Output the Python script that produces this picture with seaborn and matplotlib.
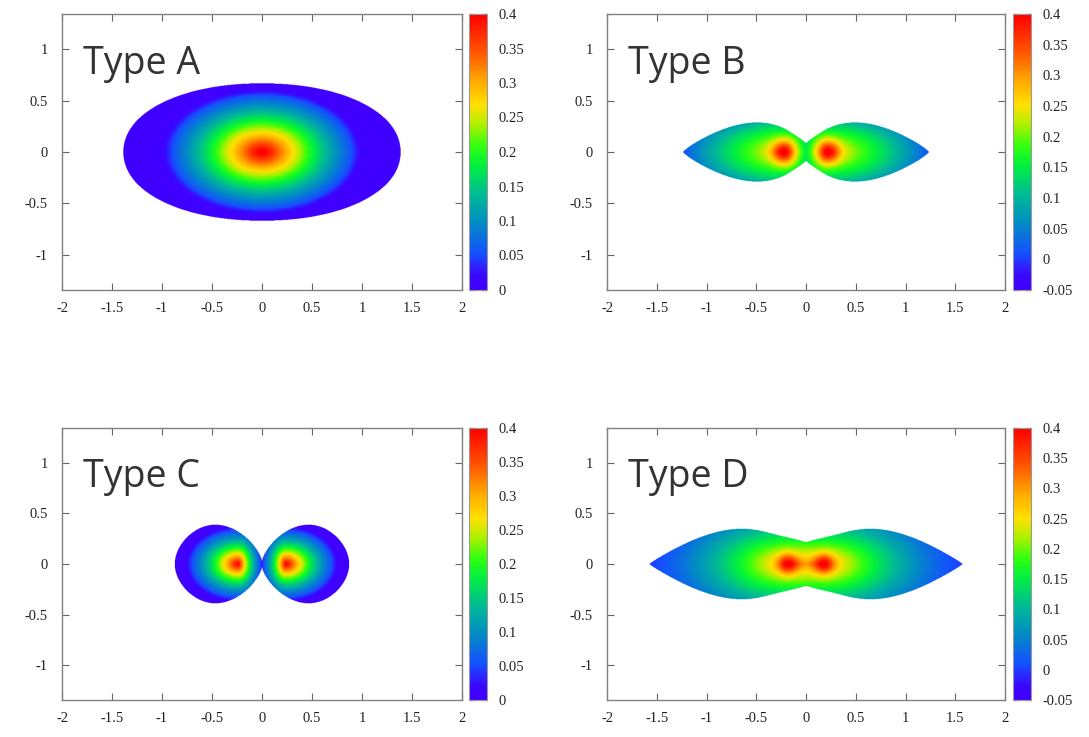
import numpy as np
import matplotlib
matplotlib.use("Agg")
import matplotlib.pyplot as plt
from matplotlib.colors import LinearSegmentedColormap, Normalize
import seaborn as sns

sns.set_theme(style="ticks")
plt.rcParams["font.family"] = ["Liberation Serif", "DejaVu Serif"]

# ---- panel data ----------------------------------------------------------
panel_names = ["Type A", "Type B", "Type C", "Type D"]
scale_min = [0.0, -0.05, 0.0, -0.05]
scale_max = [0.4, 0.4, 0.4, 0.4]

x_ticks = [-2, -1.5, -1, -0.5, 0, 0.5, 1, 1.5, 2]
x_tick_labels = ["-2", "-1.5", "-1", "-0.5", "0", "0.5", "1", "1.5", "2"]
y_ticks = [-1, -0.5, 0, 0.5, 1]
y_tick_labels = ["-1", "-0.5", "0", "0.5", "1"]
cbar_ticks_pos = [0, 0.05, 0.1, 0.15, 0.2, 0.25, 0.3, 0.35, 0.4]
cbar_labels_pos = ["0", "0.05", "0.1", "0.15", "0.2", "0.25", "0.3", "0.35", "0.4"]
cbar_ticks_neg = [-0.05, 0, 0.05, 0.1, 0.15, 0.2, 0.25, 0.3, 0.35, 0.4]
cbar_labels_neg = ["-0.05", "0", "0.05", "0.1", "0.15", "0.2", "0.25", "0.3", "0.35", "0.4"]

# density model per panel (mirrored in x)
peak_x = [0.0, 0.22, 0.24, 0.18]
core_amp = [0.0, 0.15, 0.0, 0.12]
core_width = [0.1, 0.115, 0.1, 0.10]
broad_amp = [0.42, 0.27, 0.41, 0.30]
broad_pow = [1.5, 0.9, 1.89, 1.5]
reach_in = [1.21, 0.44, 0.34, 20.0]
reach_out = [1.21, 1.05, 0.70, 1.42]
reach_y = [0.74, 0.45, 0.50, 0.70]
cutoff = [0.80, 2.0, 0.72, 2.0]
cutoff_soft = [0.02, 0.02, 0.02, 0.02]

# outline of the occupied region (half-height as a function of |x|)
outline_kind = ["oval", "lobes", "lobes", "lobes"]
outline_len = [1.39, 1.24, 0.875, 1.58]
outline_height = [0.67, 0.29, 0.39, 0.35]
outline_skew = [2.1, 0.75, 1.1, 0.78]
outline_round = [1.0, 0.8, 0.5, 0.9]
neck_height = [0.0, 0.09, 0.04, 0.22]
neck_width = [0.1, 0.12, 0.05, 0.35]

# colour scale
cmap_pos = [0.0, 0.05, 0.09, 0.13, 0.25, 0.34, 0.45, 0.52, 0.60, 0.67, 0.75, 0.87, 1.0]
cmap_col = ["#4000ff", "#3a08ff", "#2a28ff", "#1450ff", "#0090c0", "#00b898",
            "#00f040", "#30ff10", "#b0f000", "#ffe000", "#ffb000", "#ff5000", "#ff0000"]
cmap = LinearSegmentedColormap.from_list("spectrum", list(zip(cmap_pos, cmap_col)))
cmap.set_bad((1, 1, 1, 0))

XLIM = (-2, 2)
YLIM = (-1.34, 1.34)


def half_height(i, ax_):
    L = outline_len[i]
    h = outline_height[i]
    u = np.clip(ax_ / L, 0, 1)
    if outline_kind[i] == "oval":
        q = outline_skew[i]
        hh = h * np.clip(1 - u ** q, 0, 1) ** (1 / q)
    else:
        lobe = h * np.clip(np.sin(np.pi * u ** outline_skew[i]), 0, 1) ** outline_round[i]
        neck = neck_height[i] * np.exp(-(ax_ / neck_width[i]) ** 2)
        hh = np.sqrt(lobe ** 2 + neck ** 2)
    return np.where(ax_ < L, hh, 0.0)


def density(i, X, Y):
    ax_ = np.abs(X)
    dx = ax_ - peak_x[i]
    sx = np.where(dx < 0, reach_in[i], reach_out[i])
    d = np.sqrt((dx / sx) ** 2 + (Y / reach_y[i]) ** 2)
    broad = broad_amp[i] * np.clip(1 - d, 0, 1) ** broad_pow[i]
    broad = broad / (1 + np.exp(np.clip((d - cutoff[i]) / cutoff_soft[i], -50, 50)))
    core = core_amp[i] * np.exp(-(dx ** 2 + Y ** 2) / core_width[i] ** 2)
    f = broad + core
    inside = np.abs(Y) < half_height(i, ax_)
    return np.where(inside, f, np.nan)


xs = np.linspace(XLIM[0], XLIM[1], 1001)
ys = np.linspace(YLIM[0], YLIM[1], 671)
X, Y = np.meshgrid(xs, ys)

fig = plt.figure(figsize=(10.89, 7.37), dpi=100)

W, H = 1089.0, 737.0
col_left = [62, 607]
col_width = [400, 398]
cbar_left = [469, 1013]
row_top = [14, 428]
row_bottom = [290, 700]

for i, name in enumerate(panel_names):
    r, c = divmod(i, 2)
    rect = [col_left[c] / W, 1 - row_bottom[r] / H, col_width[c] / W,
            (row_bottom[r] - row_top[r]) / H]
    ax = fig.add_axes(rect)
    Z = density(i, X, Y)
    norm = Normalize(vmin=scale_min[i], vmax=scale_max[i])
    im = ax.imshow(Z, origin="lower", extent=[XLIM[0], XLIM[1], YLIM[0], YLIM[1]],
                   cmap=cmap, norm=norm, aspect="auto", interpolation="bilinear")
    ax.set_xlim(*XLIM)
    ax.set_ylim(*YLIM)
    ax.set_facecolor("white")
    ax.set_xticks(x_ticks)
    ax.set_xticklabels(x_tick_labels)
    ax.set_yticks(y_ticks)
    ax.set_yticklabels(y_tick_labels)
    ax.tick_params(direction="in", top=True, right=True, length=5, width=0.8,
                   color="#666666", labelcolor="#222222", labelsize=10.5)
    ax.tick_params(axis="x", pad=9)
    ax.tick_params(axis="y", pad=10)
    for sp in ax.spines.values():
        sp.set_color("#808080")
        sp.set_linewidth(1.0)
    ax.text(-1.79, 0.76, name, fontsize=27, color="#333333", ha="left",
            va="baseline", family=["Open Sans", "DejaVu Sans"])

    cax = fig.add_axes([cbar_left[c] / W, rect[1], 18 / W, rect[3]])
    cb = fig.colorbar(im, cax=cax)
    if scale_min[i] < 0:
        cb.set_ticks(cbar_ticks_neg)
        cb.set_ticklabels(cbar_labels_neg)
    else:
        cb.set_ticks(cbar_ticks_pos)
        cb.set_ticklabels(cbar_labels_pos)
    cb.outline.set_edgecolor("#999999")
    cb.outline.set_linewidth(0.8)
    cax.tick_params(direction="in", left=True, right=True, length=4, width=0.9,
                    color="#444444", labelcolor="#222222", labelsize=10.5, pad=8)

fig.savefig("out.png", dpi=100, facecolor="white")
